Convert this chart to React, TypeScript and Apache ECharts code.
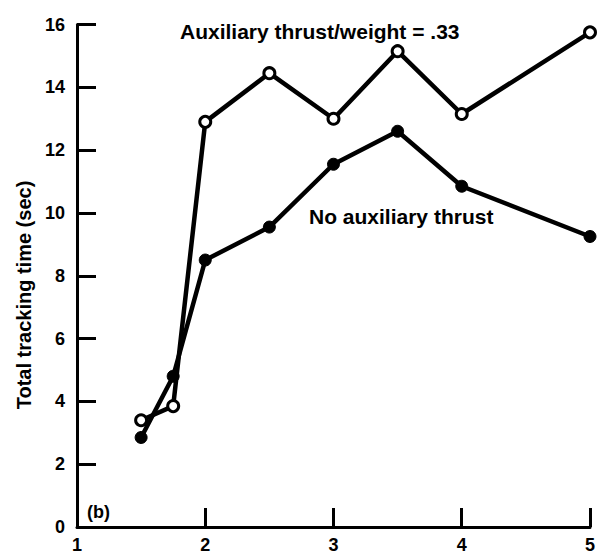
import React, { useEffect, useRef } from "react";
import * as echarts from "echarts";

const xValues = [1.5, 1.75, 2, 2.5, 3, 3.5, 4, 5];
const auxThrust = [3.4, 3.85, 12.9, 14.45, 13.0, 15.15, 13.15, 15.75];
const noAuxThrust = [2.85, 4.8, 8.5, 9.55, 11.55, 12.6, 10.85, 9.25];
const xTicks = [1, 2, 3, 4, 5];
const yTicks = [0, 2, 4, 6, 8, 10, 12, 14, 16];

const FONT = '"Liberation Sans", Arial, Helvetica, sans-serif';

export default function App() {
  const ref = useRef<HTMLDivElement>(null);
  useEffect(() => {
    if (!ref.current) return;
    const chart = echarts.init(ref.current, undefined, { renderer: "svg" });
    const pairs = (ys: number[]) => xValues.map((x, i) => [x, ys[i]]);
    chart.setOption({
      animation: false,
      backgroundColor: "#ffffff",
      grid: { left: 77, right: 5, top: 24.5, bottom: 21.5, containLabel: false },
      xAxis: {
        type: "value",
        min: xTicks[0],
        max: xTicks[xTicks.length - 1],
        interval: 1,
        axisLine: { show: true, onZero: false, lineStyle: { color: "#000", width: 3 } },
        axisTick: { show: true, inside: true, length: 19, lineStyle: { color: "#000", width: 3 } },
        axisLabel: {
          show: true,
          margin: 9,
          color: "#000",
          fontSize: 18,
          fontWeight: "bold",
          fontFamily: FONT,
          formatter: (v: number) => (xTicks.includes(v) ? String(v) : ""),
        },
        splitLine: { show: false },
      },
      yAxis: {
        type: "value",
        min: yTicks[0],
        max: yTicks[yTicks.length - 1],
        interval: 2,
        axisLine: { show: true, onZero: false, lineStyle: { color: "#000", width: 3 } },
        axisTick: { show: true, inside: true, length: 19, lineStyle: { color: "#000", width: 3 } },
        axisLabel: {
          show: true,
          margin: 12,
          color: "#000",
          fontSize: 18,
          fontWeight: "bold",
          fontFamily: FONT,
        },
        splitLine: { show: false },
      },
      series: [
        {
          type: "line",
          name: "No auxiliary thrust",
          data: pairs(noAuxThrust),
          clip: false,
          symbol: "circle",
          symbolSize: 12,
          lineStyle: { color: "#000", width: 4.5 },
          itemStyle: { color: "#000", borderColor: "#000", borderWidth: 1 },
          z: 2,
        },
        {
          type: "line",
          name: "Auxiliary thrust/weight = .33",
          data: pairs(auxThrust),
          clip: false,
          symbol: "circle",
          symbolSize: 11,
          showAllSymbol: true,
          lineStyle: { color: "#000", width: 4.5 },
          itemStyle: { color: "#fff", borderColor: "#000", borderWidth: 3 },
          z: 3,
        },
      ],
      graphic: [
        {
          type: "text",
          left: 180,
          top: 21,
          style: {
            text: "Auxiliary thrust/weight = .33",
            fill: "#000",
            fontSize: 21,
            fontWeight: "bold",
            fontFamily: FONT,
          },
        },
        {
          type: "text",
          left: 309,
          top: 206,
          style: {
            text: "No auxiliary thrust",
            fill: "#000",
            fontSize: 21,
            fontWeight: "bold",
            fontFamily: FONT,
          },
        },
        {
          type: "text",
          left: 87,
          top: 503,
          style: {
            text: "(b)",
            fill: "#000",
            fontSize: 18,
            fontWeight: "bold",
            fontFamily: FONT,
          },
        },
        {
          type: "text",
          x: 24,
          y: 295,
          rotation: Math.PI / 2,
          style: {
            text: "Total tracking time (sec)",
            x: 0,
            y: 0,
            align: "center",
            verticalAlign: "middle",
            fill: "#000",
            fontSize: 20,
            fontWeight: "bold",
            fontFamily: FONT,
          },
        },
      ],
    });
    return () => chart.dispose();
  }, []);
  return (
    <div
      ref={ref}
      style={{ position: "fixed", left: 0, top: 0, width: 598, height: 554, background: "#fff" }}
    />
  );
}
